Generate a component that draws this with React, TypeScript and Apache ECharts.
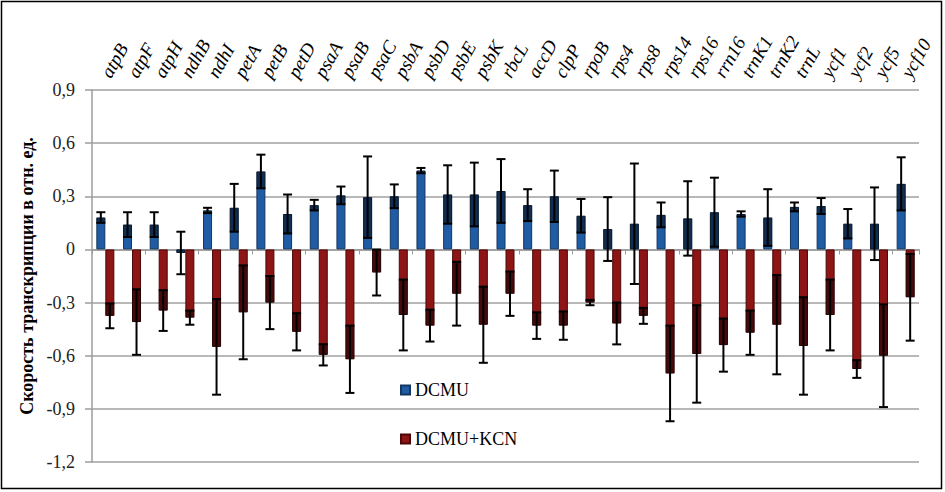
import React, { useEffect, useRef } from "react";
import * as echarts from "echarts";

const genes = [
  "atpB", "atpF", "atpH", "ndhB", "ndhI", "petA", "petB", "petD", "psaA", "psaB", "psaC",
  "psbA", "psbD", "psbE", "psbK", "rbcL", "accD", "clpP", "rpoB", "rps4", "rps8", "rps14",
  "rps16", "rrn16", "trnK1", "trnK2", "trnL", "ycf1", "ycf2", "ycf5", "ycf10",
];

const dcmu = [
  0.18, 0.14, 0.14, -0.02, 0.22, 0.235, 0.44, 0.2, 0.25, 0.305, 0.295,
  0.3, 0.445, 0.31, 0.31, 0.33, 0.25, 0.3, 0.19, 0.115, 0.145, 0.195,
  0.175, 0.21, 0.2, 0.18, 0.24, 0.245, 0.145, 0.145, 0.37,
];
const dcmuErr = [
  0.03, 0.07, 0.07, 0.12, 0.015, 0.135, 0.095, 0.11, 0.03, 0.05, 0.23,
  0.067, 0.015, 0.165, 0.18, 0.18, 0.09, 0.145, 0.095, 0.18, 0.34, 0.07,
  0.21, 0.195, 0.015, 0.16, 0.025, 0.045, 0.083, 0.205, 0.15,
];
const dcmuKcn = [
  -0.375, -0.41, -0.345, -0.385, -0.55, -0.355, -0.3, -0.465, -0.595, -0.62, -0.13,
  -0.37, -0.43, -0.25, -0.425, -0.25, -0.43, -0.43, -0.3, -0.418, -0.375, -0.7,
  -0.59, -0.54, -0.47, -0.425, -0.545, -0.37, -0.675, -0.6, -0.27,
];
const dcmuKcnErr = [
  0.07, 0.185, 0.115, 0.04, 0.27, 0.265, 0.15, 0.105, 0.06, 0.19, 0.13,
  0.2, 0.09, 0.18, 0.215, 0.125, 0.075, 0.08, 0.015, 0.118, 0.045, 0.27,
  0.275, 0.15, 0.125, 0.28, 0.275, 0.2, 0.05, 0.29, 0.245,
];

const seriesNames = ["DCMU", "DCMU+KCN"];
const yTitle = "Скорость транскрипции в отн. ед.";

const SERIF = "Liberation Serif";
const BAR_W = 9;

function errorRender(offset: number) {
  return (params: any, api: any) => {
    const i = api.value(0);
    const v = api.value(1);
    const e = api.value(2);
    const c = api.coord([i, v]);
    const x = c[0] + offset;
    const yTop = api.coord([i, v + e])[1];
    const yBot = api.coord([i, v - e])[1];
    const children: any[] = [];
    const lo = Math.max(Math.min(0, v), v - e);
    const hi = Math.min(Math.max(0, v), v + e);
    if (hi > lo) {
      const y1 = api.coord([i, hi])[1];
      const y2 = api.coord([i, lo])[1];
      children.push({
        type: "rect",
        shape: { x: x - BAR_W / 2, y: y1, width: BAR_W, height: y2 - y1 },
        style: { fill: "rgba(0,0,0,0.5)" },
      });
    }
    const ls = { stroke: "#000", lineWidth: 2 };
    children.push({ type: "line", shape: { x1: x, y1: yTop, x2: x, y2: yBot }, style: ls });
    children.push({ type: "line", shape: { x1: x - 4.5, y1: yTop, x2: x + 4.5, y2: yTop }, style: ls });
    children.push({ type: "line", shape: { x1: x - 4.5, y1: yBot, x2: x + 4.5, y2: yBot }, style: ls });
    return { type: "group", children };
  };
}

export default function App() {
  const ref = useRef<HTMLDivElement>(null);
  useEffect(() => {
    if (!ref.current) return;
    const chart = echarts.init(ref.current, null, { renderer: "svg" });
    const fmt = (v: number) => {
      const r = Math.round(v * 10) / 10;
      if (Math.abs(r) < 1e-9) return "0";
      return r.toFixed(1).replace(".", ",");
    };
    chart.setOption({
      animation: false,
      backgroundColor: "#fff",
      textStyle: { fontFamily: SERIF },
      grid: { left: 92, right: 26, top: 90, bottom: 30, containLabel: false },
      legend: {
        data: seriesNames,
        orient: "vertical",
        left: 395,
        top: 376,
        itemWidth: 9,
        itemHeight: 9,
        itemGap: 31,
        icon: "rect",
        textStyle: { fontFamily: SERIF, fontSize: 18, color: "#000", lineHeight: 18 },
      },
      graphic: [
        {
          type: "rect",
          shape: { x: 1.5, y: 1.5, width: 940, height: 487 },
          style: { fill: "none", stroke: "#000", lineWidth: 1.5 },
          silent: true,
        },
      ],
      xAxis: [
        {
          type: "category",
          data: genes,
          position: "bottom",
          axisLine: { onZero: true, lineStyle: { color: "#9c9c9c", width: 1.5 } },
          axisTick: { show: true, length: 5, lineStyle: { color: "#9c9c9c" } },
          axisLabel: { show: false },
        },
        {
          type: "category",
          data: genes,
          position: "top",
          axisLine: { show: false },
          axisTick: { show: false },
          axisLabel: {
            rotate: -60,
            margin: 14,
            fontFamily: SERIF,
            fontStyle: "italic",
            fontSize: 19,
            color: "#000",
            interval: 0,
          },
        },
      ],
      yAxis: {
        type: "value",
        min: -1.2,
        max: 0.9,
        interval: 0.3,
        name: yTitle,
        nameLocation: "middle",
        nameRotate: 90,
        nameGap: 56,
        nameTextStyle: { fontFamily: SERIF, fontWeight: "bold", fontSize: 18, color: "#000" },
        axisLine: { show: true, lineStyle: { color: "#9c9c9c", width: 1.5 } },
        axisTick: { show: true, length: 7, lineStyle: { color: "#9c9c9c", width: 1.5 } },
        axisLabel: { formatter: fmt, fontFamily: SERIF, fontSize: 18, color: "#222", margin: 17 },
        splitLine: { show: true, lineStyle: { color: "#a0a0a0", width: 1.5 } },
      },
      series: [
        {
          name: seriesNames[0],
          type: "bar",
          data: dcmu,
          barWidth: BAR_W,
          barGap: "0%",
          itemStyle: { color: "#1f5ca3", borderColor: "#14365f", borderWidth: 1 },
        },
        {
          name: seriesNames[1],
          type: "bar",
          data: dcmuKcn,
          barWidth: BAR_W,
          barGap: "0%",
          itemStyle: { color: "#8d1515", borderColor: "#4a0808", borderWidth: 1 },
        },
        {
          name: "errDCMU",
          type: "custom",
          renderItem: errorRender(-BAR_W / 2),
          data: dcmu.map((v, k) => [k, v, dcmuErr[k]]),
          encode: { x: 0, y: 1 },
          z: 5,
          silent: true,
        },
        {
          name: "errKCN",
          type: "custom",
          renderItem: errorRender(BAR_W / 2),
          data: dcmuKcn.map((v, k) => [k, v, dcmuKcnErr[k]]),
          encode: { x: 0, y: 1 },
          z: 5,
          silent: true,
        },
      ],
    });
    return () => chart.dispose();
  }, []);
  return (
    <div
      ref={ref}
      style={{ position: "fixed", left: 0, top: 0, width: 945, height: 492 }}
    />
  );
}
